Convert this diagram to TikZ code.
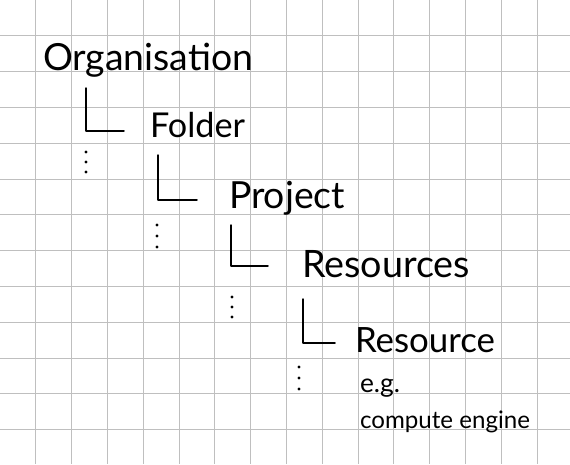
\documentclass[tikz,border=0pt]{standalone}
\usepackage{fontspec}
\setmainfont{Lato}
\usepackage{graphicx}
\newcommand\hwtext[2]{\resizebox{#1pt}{!}{#2}}
\begin{document}
\begin{tikzpicture}[x=1pt,y=-1pt,
  gridline/.style={draw=black!25,line width=0.9pt},
  ink/.style={draw=black,line width=1.5pt,line cap=round,line join=round},
  label/.style={inner sep=0pt,outer sep=0pt,anchor=base west,font=\fontsize{30}{30}\selectfont},
  dotmark/.style={fill=black}]
\useasboundingbox (0,0) rectangle (570,464);
\fill[white] (0,0) rectangle (570,464);
\foreach \k in {1,...,15} \draw[gridline] ({35.8*\k},0) -- ({35.8*\k},464);
\foreach \k in {1,...,12} \draw[gridline] (0,{35.8*\k}) -- (570,{35.8*\k});

\node[label] (org) at (43,70) {\hwtext{210}{Organisation}};
\node[label] (folder) at (150,137) {\hwtext{95}{Folder}};
\node[label] (project) at (229,208) {\hwtext{116}{Project}};
\node[label] (resources) at (302,277) {\hwtext{168}{Resources}};
\node[label] (resource) at (355,352) {\hwtext{140}{Resource}};
\node[label] (eg) at (360,392) {\hwtext{40}{e.g.}};
\node[label] (compute) at (360,428) {\hwtext{170}{compute engine}};

\coordinate (a1) at (86,88);   \coordinate (b1) at (124,131);
\coordinate (a2) at (158,155); \coordinate (b2) at (197,200);
\coordinate (a3) at (231,225); \coordinate (b3) at (268,266);
\coordinate (a4) at (303,299); \coordinate (b4) at (335,343);
\draw[ink] (a1) |- (b1);
\draw[ink] (a2) |- (b2);
\draw[ink] (a3) |- (b3);
\draw[ink] (a4) |- (b4);

\foreach \x/\y in {86/152,86/162,86/172,
                   157/225,157/236,157/247,
                   232/297,232/307,232/317,
                   299/367,299/378,299/389}
  \fill[dotmark] (\x,\y) circle (1.6);
\end{tikzpicture}
\end{document}
